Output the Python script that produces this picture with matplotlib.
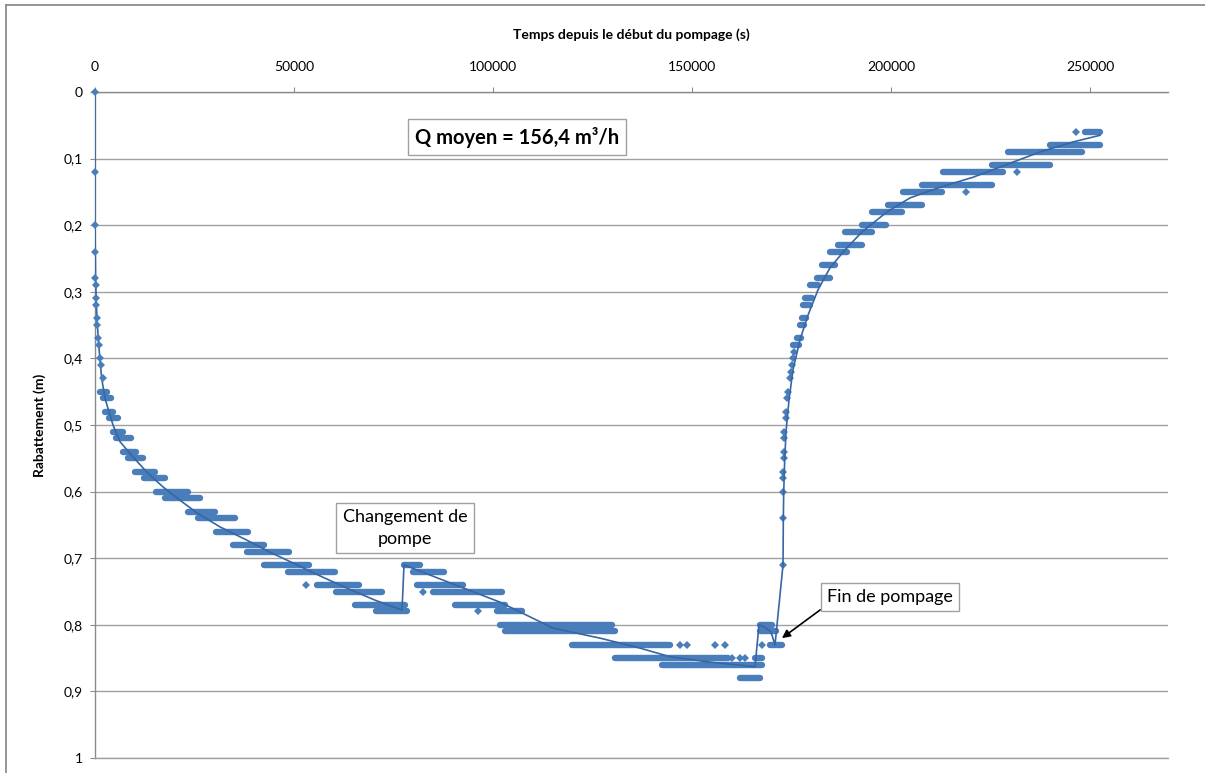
import matplotlib
matplotlib.use('Agg')
import matplotlib.pyplot as plt
from matplotlib.ticker import FuncFormatter
from matplotlib.lines import Line2D

plt.rcParams['font.family'] = ['Lato', 'DejaVu Sans']

# ---------------- data (time in s, drawdown in m) ----------------
# isolated readings at the very start of pumping
early_t = [0, 0, 0, 50, 100, 150, 250, 350, 450, 600, 800, 950, 1250, 1430, 1930]
early_y = [0.00, 0.12, 0.20, 0.24, 0.28, 0.29, 0.31, 0.32, 0.34, 0.35, 0.37, 0.38, 0.40, 0.41, 0.43]

# plateaus of dense readings: level, first time, last time
band_level = [0.45, 0.46, 0.48, 0.49, 0.51, 0.52, 0.54, 0.55, 0.57, 0.58,
              0.60, 0.61, 0.63, 0.64, 0.66, 0.68, 0.69, 0.71, 0.72, 0.74,
              0.75, 0.77, 0.78,
              0.71, 0.72, 0.74, 0.75, 0.77, 0.78, 0.80, 0.81, 0.83, 0.85,
              0.86, 0.88, 0.85,
              0.80, 0.81, 0.83,
              0.38, 0.37, 0.35, 0.34, 0.32, 0.31, 0.29, 0.28, 0.26, 0.24,
              0.23, 0.21, 0.20, 0.18, 0.17, 0.15, 0.14, 0.12, 0.11, 0.09,
              0.08, 0.06]
band_start = [1260, 2010, 2510, 3520, 4520, 5280, 7040, 8290, 10050, 12310,
              15330, 17590, 23370, 25880, 30400, 34670, 38190, 42460, 48490, 55780,
              60550, 65330, 70600,
              77640, 79900, 80910, 84930, 90450, 101000, 101760, 103020, 119850, 130660,
              142460, 162060, 165830,
              167090, 167090, 169600,
              175500, 176400, 177140, 177640, 177890, 178400, 179650, 181410, 182670, 184680,
              186690, 188450, 192720, 195230, 199250, 203020, 207790, 213070, 225380, 229400,
              239950, 248740]
band_end = [3020, 4020, 4520, 5780, 7040, 9050, 10300, 12060, 15080, 17590,
            23370, 26380, 30150, 35180, 38440, 42460, 48740, 53770, 60300, 66330,
            72110, 77890, 78390,
            81660, 87690, 92460, 102260, 103020, 107290, 129900, 130660, 144470, 159050,
            167590, 167090, 167590,
            170100, 171100, 172620,
            177000, 177400, 178140, 178650, 179650, 180160, 181660, 184680, 185930, 188950,
            192720, 195230, 198750, 202770, 207790, 212820, 225380, 228140, 239950, 247990,
            252520, 252520]

# scattered single readings
single_t = [53020, 82410, 96230, 146990, 148750, 155780, 158290, 160050, 162060,
            163320, 167590, 218850, 231660, 246490]
single_y = [0.74, 0.75, 0.78, 0.83, 0.83, 0.83, 0.83, 0.85, 0.85,
            0.85, 0.83, 0.15, 0.12, 0.06]

# fast recovery just after the pump stopped
recov_t = [172790, 172820, 172870, 172950, 172970, 173050, 173120, 173170, 173220,
           173500, 173620, 173870, 174120, 174630, 174880, 175050, 175380, 175630]
recov_y = [0.71, 0.64, 0.60, 0.58, 0.57, 0.55, 0.54, 0.52, 0.51,
           0.49, 0.48, 0.46, 0.45, 0.43, 0.42, 0.41, 0.40, 0.39]

# connecting curve
line_t = [0, 0, 0, 75, 150, 300, 500, 830, 1210, 1680, 2510, 3520, 4520, 6280, 9550,
          13070, 17090, 21360, 25630, 31410, 38190, 43970, 50750, 57040, 63320, 70350,
          77140, 77640, 89200, 101760, 115080, 126890, 136940, 144470, 154520, 165830,
          166840, 168100, 169850, 170860, 172870, 172950, 173050, 173250, 173620, 174380,
          175380, 177140, 179150, 181660, 184680, 188450, 192720, 199000, 204780, 212320,
          220610, 229910, 237450, 245740, 252520]
line_y = [0.0, 0.12, 0.20, 0.24, 0.28, 0.31, 0.34, 0.37, 0.40, 0.43, 0.46, 0.48, 0.50, 0.525, 0.548,
          0.571, 0.593, 0.613, 0.632, 0.653, 0.673, 0.691, 0.710, 0.728, 0.745, 0.763,
          0.778, 0.71, 0.737, 0.766, 0.805, 0.820, 0.835, 0.848, 0.856, 0.863,
          0.80, 0.803, 0.811, 0.83, 0.71, 0.64, 0.60, 0.56, 0.51, 0.462,
          0.417, 0.372, 0.335, 0.297, 0.264, 0.237, 0.21, 0.18, 0.159, 0.143,
          0.128, 0.107, 0.090, 0.075, 0.065]

x_ticks = [0, 50000, 100000, 150000, 200000, 250000]
y_ticks = [0, 0.1, 0.2, 0.3, 0.4, 0.5, 0.6, 0.7, 0.8, 0.9, 1.0]

# ---------------- figure ----------------
W, H = 1205, 773
fig = plt.figure(figsize=(W / 100, H / 100), dpi=100)
ax = fig.add_axes([95 / W, (H - 758) / H, (1168 - 95) / W, 666 / H])

mcol = '#4a7ebb'
lcol = '#3666a6'
axis_col = '#8a8a8a'
grid_col = '#a0a0a0'

for lvl, s, e in zip(band_level, band_start, band_end):
    ax.plot([s, e], [lvl, lvl], color=mcol, lw=4.6, solid_capstyle='round', zorder=3)

ax.plot(early_t, early_y, 'D', color=mcol, ms=3.8, mew=0, zorder=4, clip_on=False)
ax.plot(single_t, single_y, 'D', color=mcol, ms=3.8, mew=0, zorder=3)
ax.plot(recov_t, recov_y, 'D', color=mcol, ms=3.8, mew=0, zorder=3)
ax.plot(line_t, line_y, '-', color=lcol, lw=1.2, zorder=3.5)

ax.set_xlim(0, 269600)
ax.set_ylim(1, 0)
ax.xaxis.tick_top()
ax.set_xticks(x_ticks)
ax.set_yticks(y_ticks)
ax.xaxis.set_major_formatter(FuncFormatter(lambda v, p: '%d' % v))
ax.yaxis.set_major_formatter(FuncFormatter(lambda v, p: ('%g' % round(v, 1)).replace('.', ',')))
ax.tick_params(axis='x', direction='out', length=3.6, width=0.8, color=axis_col,
               labelsize=10, pad=10)
ax.tick_params(axis='y', direction='out', length=3.6, width=0.8, color=axis_col,
               labelsize=10, pad=5)
ax.spines['right'].set_visible(False)
ax.spines['top'].set_color(axis_col)
ax.spines['left'].set_color(axis_col)
ax.spines['bottom'].set_color(grid_col)
for sp in ax.spines.values():
    sp.set_linewidth(1.0)
ax.grid(axis='y', color=grid_col, lw=1.0)
ax.set_axisbelow(True)

fig.text(631 / W, 1 - 35 / H, 'Temps depuis le début du pompage (s)', ha='center', va='center',
         fontsize=10, fontweight='bold')
fig.text(40 / W, 1 - 425 / H, 'Rabattement (m)', ha='center', va='center', rotation=90,
         fontsize=10, fontweight='bold')

box = dict(boxstyle='square,pad=0.35', fc='white', ec='#a0a0a0', lw=1)
ax.text(106030, 0.0676, 'Q moyen = 156,4 m³/h', ha='center', va='center', fontsize=14.5,
        fontweight='bold', bbox=box, zorder=5)
ax.text(77890, 0.6547, 'Changement de\npompe', ha='center', va='center', fontsize=13,
        multialignment='center', linespacing=1.45, bbox=box, zorder=5)
ax.annotate('Fin de pompage', xy=(172600, 0.82), xytext=(199750, 0.758),
            ha='center', va='center', fontsize=13, bbox=box, zorder=5,
            arrowprops=dict(arrowstyle='-|>', color='black', lw=1.2, relpos=(0, 0),
                            shrinkA=0, shrinkB=0, mutation_scale=12))

bcol = '#8c8c8c'
fig.add_artist(Line2D([6 / W, 1], [1 - 5 / H, 1 - 5 / H], transform=fig.transFigure,
                      color=bcol, lw=1.3))
fig.add_artist(Line2D([6 / W, 6 / W], [0, 1 - 5 / H], transform=fig.transFigure,
                      color=bcol, lw=1.3))

fig.savefig('out.png', dpi=100)
